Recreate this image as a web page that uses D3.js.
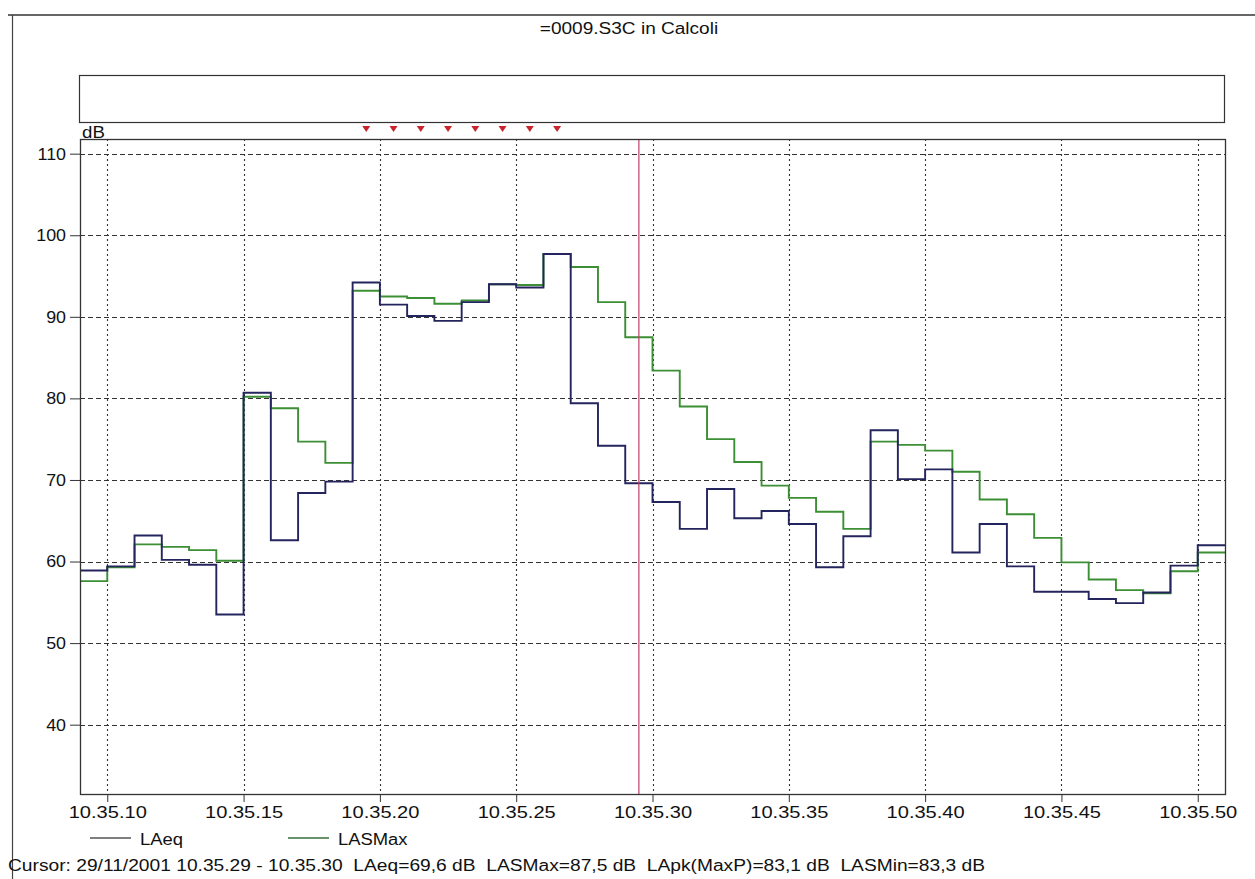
<!DOCTYPE html>
<html>
<head>
<meta charset="utf-8">
<script src="https://cdn.jsdelivr.net/npm/d3@7"></script>
<style>
  html, body { margin: 0; padding: 0; background: #fff; }
  svg { display: block; font-family: Arial, "Liberation Sans", Helvetica, sans-serif; }
  text { white-space: pre; }
</style>
</head>
<body>
<svg id="chart" width="1255" height="879"></svg>
<script>
// Measurement: one-second intervals starting at 10.35.09
const seconds = d3.range(9, 51);
const laeq = [58.9, 59.4, 63.2, 60.2, 59.6, 53.5, 80.7, 62.6, 68.4, 69.8,
              94.2, 91.5, 90.1, 89.5, 91.8, 94.0, 93.6, 97.7, 79.4, 74.2,
              69.6, 67.3, 64.0, 68.9, 65.3, 66.2, 64.6, 59.3, 63.1, 76.1,
              70.1, 71.3, 61.1, 64.6, 59.4, 56.3, 56.3, 55.4, 54.9, 56.2,
              59.5, 62.0];
const lasmax = [57.6, 59.3, 62.1, 61.8, 61.4, 60.1, 80.2, 78.8, 74.7, 72.1,
                93.2, 92.5, 92.3, 91.6, 92.0, 94.0, 93.9, 97.7, 96.1, 91.8,
                87.5, 83.4, 79.0, 75.0, 72.2, 69.3, 67.8, 66.1, 64.0, 74.7,
                74.3, 73.6, 71.0, 67.6, 65.8, 62.9, 59.9, 57.8, 56.5, 56.1,
                58.8, 61.1];
const xTickSeconds = [10, 15, 20, 25, 30, 35, 40, 45, 50];
const xTickLabels = ["10.35.10", "10.35.15", "10.35.20", "10.35.25", "10.35.30",
                     "10.35.35", "10.35.40", "10.35.45", "10.35.50"];
const yTicks = [40, 50, 60, 70, 80, 90, 100, 110];
const markerSeconds = [19, 20, 21, 22, 23, 24, 25, 26];
const cursorSecond = 29.5;
const seriesNames = ["LAeq", "LASMax"];
const seriesColors = ["#24245e", "#3d8f35"];
const titleText = "=0009.S3C in Calcoli";
const cursorText = "Cursor: 29/11/2001 10.35.29 - 10.35.30  LAeq=69,6 dB  LASMax=87,5 dB  LApk(MaxP)=83,1 dB  LASMin=83,3 dB";

const svg = d3.select("#chart");
const plot = { left: 80, right: 1225, top: 139, bottom: 794 };

const x = d3.scaleLinear().domain([9, 51]).range([plot.left, plot.right]);
const y = d3.scaleLinear().domain([31.5, 111.8]).range([plot.bottom, plot.top]);

// the report font is set slightly wide; stretch text horizontally
function widen(sel, k) {
  sel.each(function () {
    const w = this.getComputedTextLength();
    d3.select(this).attr("textLength", w * k).attr("lengthAdjust", "spacingAndGlyphs");
  });
}

// page frame
svg.append("line").attr("x1", 8).attr("x2", 1255).attr("y1", 15).attr("y2", 15)
  .attr("stroke", "#333").attr("stroke-width", 1.5);
svg.append("line").attr("x1", 12.5).attr("x2", 12.5).attr("y1", 15).attr("y2", 879)
  .attr("stroke", "#444").attr("stroke-width", 1.2);

// title
svg.append("text").attr("x", 629).attr("y", 34).attr("text-anchor", "middle")
  .attr("font-size", 16).attr("fill", "#111").text(titleText).call(widen, 1.19);

// empty band above the plot
svg.append("rect").attr("x", 79.5).attr("y", 75.5).attr("width", 1145).attr("height", 47)
  .attr("fill", "none").attr("stroke", "#333").attr("stroke-width", 1.2);

// event markers
svg.append("g").selectAll("path").data(markerSeconds).join("path")
  .attr("d", d => {
    const cx = x(d + 0.5), cy = 129;
    return `M${cx - 4},${cy - 3}L${cx + 4},${cy - 3}L${cx},${cy + 3}Z`;
  })
  .attr("fill", "#c8242c");

// grid
const grid = svg.append("g");
grid.selectAll("line.h").data(yTicks).join("line").attr("class", "h")
  .attr("x1", plot.left).attr("x2", plot.right)
  .attr("y1", d => Math.round(y(d)) + 0.5).attr("y2", d => Math.round(y(d)) + 0.5)
  .attr("stroke", "#333").attr("stroke-width", 1.1).attr("stroke-dasharray", "5,3");
grid.selectAll("line.v").data(xTickSeconds).join("line").attr("class", "v")
  .attr("x1", d => Math.round(x(d)) + 0.5).attr("x2", d => Math.round(x(d)) + 0.5)
  .attr("y1", plot.top).attr("y2", plot.bottom)
  .attr("stroke", "#333").attr("stroke-width", 1.1).attr("stroke-dasharray", "2,3");

// axes
const yAxis = d3.axisLeft(y).tickValues(yTicks).tickSize(10).tickPadding(4);
const gy = svg.append("g").attr("transform", `translate(${plot.left},0)`).call(yAxis);
gy.select(".domain").remove();
gy.selectAll("text").attr("font-size", 17).attr("fill", "#111")
  .attr("font-family", "Arial, 'Liberation Sans', sans-serif").call(widen, 1.05);
gy.selectAll("line").attr("stroke", "#333");

const xAxis = d3.axisBottom(x).tickValues(xTickSeconds)
  .tickFormat((d, i) => xTickLabels[i]).tickSize(8).tickPadding(4);
const gx = svg.append("g").attr("transform", `translate(0,${plot.bottom})`).call(xAxis);
gx.select(".domain").remove();
gx.selectAll("text").attr("font-size", 17).attr("fill", "#111")
  .attr("font-family", "Arial, 'Liberation Sans', sans-serif").call(widen, 1.18);
gx.selectAll("line").attr("stroke", "#333");

svg.append("text").attr("x", 82).attr("y", 138).attr("font-size", 17).attr("fill", "#111")
  .text("dB").call(widen, 1.1);

// series as step lines
const stepLine = d3.line().x(d => x(d[0])).y(d => y(d[1])).curve(d3.curveStepAfter);
function stepData(values) {
  const pts = seconds.map((s, i) => [s, values[i]]);
  pts.push([51, values[values.length - 1]]);
  return pts;
}
svg.append("clipPath").attr("id", "plotclip").append("rect")
  .attr("x", plot.left).attr("y", plot.top).attr("width", plot.right - plot.left).attr("height", plot.bottom - plot.top);
const series = svg.append("g").attr("clip-path", "url(#plotclip)");
series.append("path").datum(stepData(lasmax)).attr("d", stepLine)
  .attr("fill", "none").attr("stroke", seriesColors[1]).attr("stroke-width", 1.9);
series.append("path").datum(stepData(laeq)).attr("d", stepLine)
  .attr("fill", "none").attr("stroke", seriesColors[0]).attr("stroke-width", 1.9);

// cursor
svg.append("line").attr("x1", x(cursorSecond)).attr("x2", x(cursorSecond))
  .attr("y1", plot.top).attr("y2", plot.bottom)
  .attr("stroke", "#c0406a").attr("stroke-width", 1.2);

// plot frame
svg.append("rect").attr("x", plot.left + 0.5).attr("y", plot.top + 0.5)
  .attr("width", plot.right - plot.left).attr("height", plot.bottom - plot.top)
  .attr("fill", "none").attr("stroke", "#333").attr("stroke-width", 1.3);

// legend
const legendX = [90, 288];
const legend = svg.append("g");
seriesNames.forEach((name, i) => {
  legend.append("line").attr("x1", legendX[i]).attr("x2", legendX[i] + 41)
    .attr("y1", 838).attr("y2", 838).attr("stroke", i === 0 ? "#555" : "#3a6f3a").attr("stroke-width", 1.5);
  legend.append("text").attr("x", legendX[i] + 50).attr("y", 845)
    .attr("font-size", 16).attr("fill", "#111").text(name).call(widen, 1.15);
});

// cursor readout
svg.append("text").attr("x", 8).attr("y", 871).attr("font-size", 16).attr("fill", "#111")
  .text(cursorText).call(widen, 1.0).each(function () {
    d3.select(this).attr("textLength", 977);
  });
</script>
</body>
</html>
